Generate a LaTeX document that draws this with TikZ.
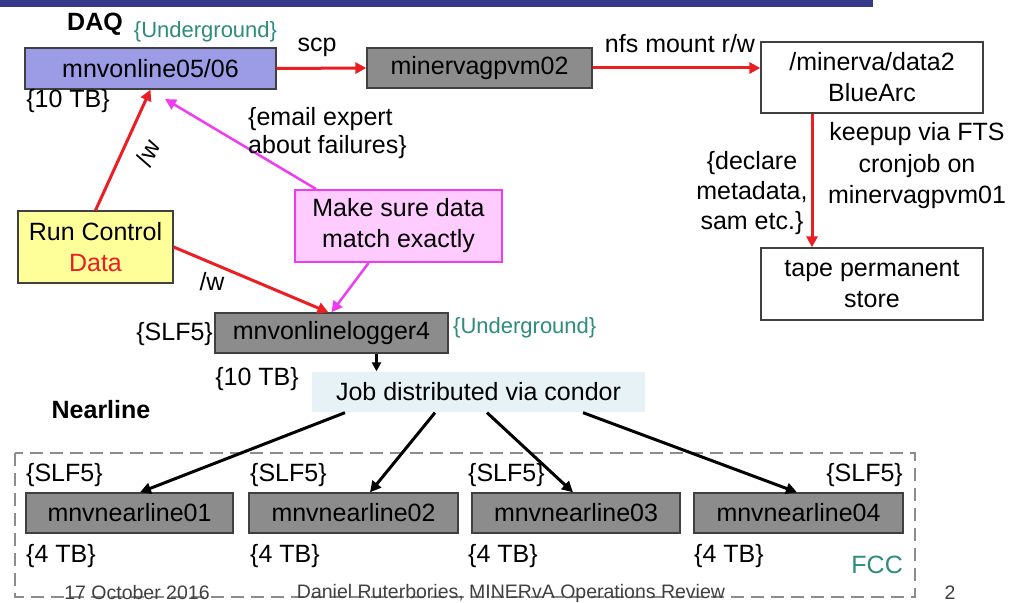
\documentclass[tikz,border=0pt]{standalone}
\usepackage{fontspec}
\setmainfont{Liberation Sans}
\usetikzlibrary{arrows.meta}
\definecolor{barblue}{RGB}{52,57,138}
\definecolor{lav}{RGB}{155,155,230}
\definecolor{boxgray}{RGB}{140,140,140}
\definecolor{rcyellow}{RGB}{255,255,153}
\definecolor{pinkfill}{RGB}{255,204,255}
\definecolor{magline}{RGB}{240,60,240}
\definecolor{jobfill}{RGB}{230,242,245}
\definecolor{tealtxt}{RGB}{45,140,125}
\definecolor{redline}{RGB}{235,30,35}
\definecolor{dashgray}{RGB}{140,140,140}
\begin{document}
\begin{tikzpicture}[x=1bp,y=-1bp,
  txt/.style={font=\fontsize{25bp}{30bp}\selectfont, inner sep=0pt},
  small/.style={font=\fontsize{22bp}{26bp}\selectfont, inner sep=0pt},
  foot/.style={font=\fontsize{19.5bp}{22bp}\selectfont, inner sep=0pt, text=black!75},
  box/.style={draw=black!75, line width=1.3bp, inner sep=0pt, align=center,
    font=\fontsize{25bp}{31bp}\selectfont},
  redarrow/.style={draw=redline, line width=3bp, -{Triangle[length=11bp,width=11bp]}},
  magarrow/.style={draw=magline, line width=2.5bp, -{Triangle[length=11bp,width=11bp]}},
  blkarrow/.style={draw=black, line width=3bp, -{Triangle[length=11bp,width=11bp]}},
]
\useasboundingbox (0,0) rectangle (1011,603);
\fill[white] (0,0) rectangle (1011,603);
\fill[barblue] (0,0) rectangle (873,7);

% dashed FCC region
\draw[dashgray, line width=2bp, dash pattern=on 13bp off 7bp] (15,453) rectangle (915,597);

% boxes
\node[box, fill=lav, minimum width=251bp, minimum height=41bp] (on) at (150.5,68.5) {mnvonline05/06};
\node[box, fill=boxgray, minimum width=225bp, minimum height=40bp] (gpvm) at (479.5,68) {minervagpvm02};
\node[box, fill=white, minimum width=222bp, minimum height=71bp] (data2) at (872,77.5) {/minerva/data2\\BlueArc};
\node[box, fill=white, minimum width=222bp, minimum height=72bp] (tape) at (872,284) {tape permanent\\store};
\node[box, fill=rcyellow, minimum width=155bp, minimum height=72bp] (rc) at (95.5,247) {Run Control\\\textcolor{redline}{Data}};
\node[box, draw=magline, line width=2bp, fill=pinkfill, minimum width=207bp, minimum height=72bp] (make) at (398.5,226) {Make sure data\\match exactly};
\node[box, fill=boxgray, minimum width=233bp, minimum height=40bp] (logger) at (331.5,333) {mnvonlinelogger4};
\node[box, draw=none, fill=jobfill, minimum width=333bp, minimum height=40bp] (job) at (478.5,392) {Job distributed via condor};
\node[box, fill=boxgray, minimum width=207bp, minimum height=40bp] (nl1) at (129.5,513) {mnvnearline01};
\node[box, fill=boxgray, minimum width=209bp, minimum height=40bp] (nl2) at (353.5,513) {mnvnearline02};
\node[box, fill=boxgray, minimum width=208bp, minimum height=40bp] (nl3) at (576,513) {mnvnearline03};
\node[box, fill=boxgray, minimum width=209bp, minimum height=40bp] (nl4) at (798.5,513) {mnvnearline04};

\coordinate (emtip) at (165,99);

% connectors
\draw[redarrow] (on.east) -- (gpvm.west);
\draw[redarrow] (gpvm.east) -- (gpvm.east -| data2.west);
\draw[redarrow] ([xshift=-60bp]data2.south) -- ([xshift=-60bp]tape.north);
\draw[redarrow] (rc.north) -- (on.south);
\draw[redarrow] (rc.east) -- ([xshift=-3bp]logger.north);
\draw[magarrow] ([xshift=22bp]make.north west) -- (emtip);
\draw[magarrow] ([xshift=-30bp]make.south) -- (logger.north);
\draw[blkarrow, line width=2.5bp, -{Triangle[length=9bp,width=9bp]}] ([xshift=45bp]logger.south) -- ([xshift=45bp]logger.south |- job.north);
\draw[blkarrow] ([xshift=-133.5bp]job.south) -- ([xshift=10.5bp]nl1.north);
\draw[blkarrow] ([xshift=-43.5bp]job.south) -- ([xshift=16.5bp]nl2.north);
\draw[blkarrow] ([xshift=8.5bp]job.south) -- ([xshift=-3bp]nl3.north);
\draw[blkarrow] ([xshift=104.5bp]job.south) -- ([xshift=-1.5bp]nl4.north);

% labels
\node[txt, font=\fontsize{25bp}{30bp}\selectfont\bfseries] (daq) at (95,24) {DAQ};
\node[small, text=tealtxt] (ug1) at (205.5,32) {\{Underground\}};
\node[txt] (scp) at (317,47) {scp};
\node[txt] (nfs) at (680,44) {nfs mount r/w};
\node[txt] (tb10a) at (68,101) {\{10 TB\}};
\node[txt, anchor=north west, align=left, font=\fontsize{25bp}{28bp}\selectfont] (email) at (248,107) {\{email expert\\about failures\}};
\node[txt, align=center, font=\fontsize{25bp}{31.5bp}\selectfont] (keep) at (917,166) {keepup via FTS\\cronjob on\\minervagpvm01};
\node[txt, align=center, font=\fontsize{25bp}{30bp}\selectfont] (decl) at (752,193) {\{declare\\metadata,\\sam etc.\}};
\node[txt, rotate=64] (w1) at (148,153) {/w};
\node[txt] (w2) at (212,282) {/w};
\node[txt, anchor=east] (slf0) at (213,334) {\{SLF5\}};
\node[small, text=tealtxt, anchor=west] (ug2) at (453,328) {\{Underground\}};
\node[txt] (tb10b) at (257,379) {\{10 TB\}};
\node[txt, font=\fontsize{25bp}{30bp}\selectfont\bfseries] (near) at (101,410) {Nearline};
\node[txt, anchor=west] (slf1) at (26,475) {\{SLF5\}};
\node[txt, anchor=west] (slf2) at (250,475) {\{SLF5\}};
\node[txt, anchor=west] (slf3) at (468,475) {\{SLF5\}};
\node[txt, anchor=east] (slf4) at (903,475) {\{SLF5\}};
\node[txt, anchor=west] (tb1) at (26,556) {\{4 TB\}};
\node[txt, anchor=west] (tb2) at (250,556) {\{4 TB\}};
\node[txt, anchor=west] (tb3) at (468,556) {\{4 TB\}};
\node[txt, anchor=west] (tb4) at (694,556) {\{4 TB\}};
\node[txt, text=tealtxt, anchor=east] (fcc) at (903,565) {FCC};

% footer
\node[foot] (date) at (137,593) {17 October 2016};
\node[foot] (author) at (511,593) {Daniel Ruterbories, MINERvA Operations Review};
\node[foot] (page) at (950,593) {2};
\end{tikzpicture}
\end{document}
